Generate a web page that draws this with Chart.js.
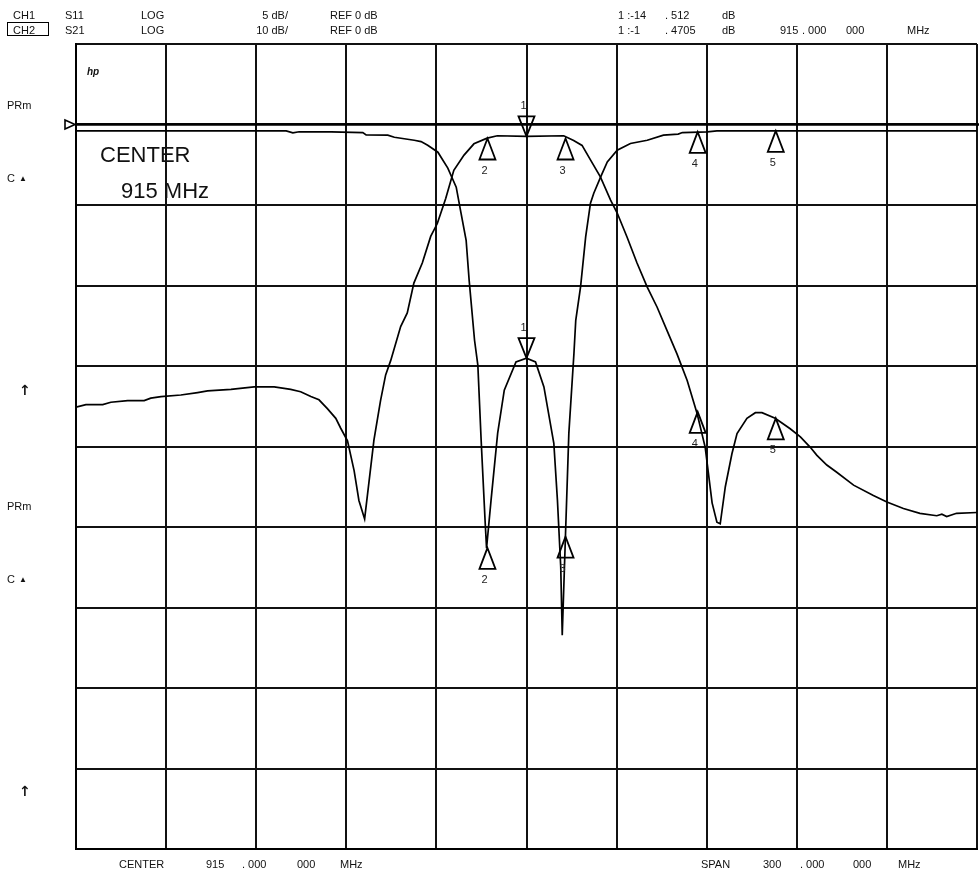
<!DOCTYPE html>
<html>
<head>
<meta charset="utf-8">
<script src="https://cdn.jsdelivr.net/npm/chart.js@4.4.0/dist/chart.umd.min.js"></script>
<style>
  html, body { margin: 0; padding: 0; background: #fff; }
  #wrap { position: relative; width: 979px; height: 877px; overflow: hidden;
          font-family: "Liberation Sans", Arial, sans-serif; color: #111; }
  #wrap canvas { position: absolute; left: 0; top: 0; }
  .t { position: absolute; font-size: 11px; line-height: 12px; white-space: pre; }
  .big { font-size: 22px; line-height: 24px; }
  .box { position: absolute; border: 1.5px solid #000; }
</style>
</head>
<body>
<div id="wrap"><canvas id="c" width="979" height="877"></canvas></div>
<script>
/* ---------- analyser settings ---------- */
const centerMHz = 915;
const spanMHz = 300;
const refDb = 0;
const s11PerDiv = 5;    // CH1
const s21PerDiv = 10;   // CH2

/* ---------- CH1 : S11 trace ---------- */
const s11Freq = [765, 835.0, 837.2, 839.3, 850.0, 860.5, 861.6, 868.8, 871.0, 877.6,
  879.9, 882.1, 885.5, 888.8, 891.6, 893.2, 894.9, 895.9, 897.7, 898.8,
  899.9, 901.2, 901.7, 903.2, 905.4, 907.6, 911.5, 915, 918.0, 920.8,
  924.1, 925.3, 926.4, 926.9, 928.0, 929.1, 930.8, 931.4, 933.0, 934.7,
  936.3, 937.4, 939.7, 941.9, 945.2, 949.6, 955.2, 960.6, 965.5, 966.9,
  975.2, 978.4, 1065];
const s11Db = [-0.40, -0.40, -0.52, -0.45, -0.46, -0.50, -0.65, -0.66, -0.79, -0.98,
  -1.06, -1.29, -1.72, -2.71, -3.89, -5.51, -7.19, -9.67, -13.40, -14.95,
  -19.61, -24.58, -26.32, -23.33, -19.17, -16.50, -14.75, -14.51, -14.75, -16.30,
  -19.80, -23.34, -27.48, -31.72, -25.39, -19.17, -14.21, -12.16, -10.09, -6.98,
  -4.89, -4.27, -3.25, -2.32, -1.60, -1.18, -0.98, -0.66, -0.60, -0.50,
  -0.46, -0.40, -0.40];

/* ---------- CH2 : S21 trace ---------- */
const s21Freq = [765, 768.3, 773.9, 776.6, 782.2, 787.7, 789.9, 793.3, 799.9, 805.5,
  808.8, 816.6, 824.3, 831.0, 836.5, 839.8, 843.2, 845.9, 848.7, 851.5,
  853.1, 855.4, 857.6, 859.2, 861.1, 864.2, 866.4, 868.1, 869.8, 873.1,
  875.3, 877.5, 880.3, 883.1, 885.3, 888.1, 890.8, 894.2, 897.5, 901.9,
  905.3, 915, 927.4, 930.7, 933.5, 936.3, 939.6, 943.0, 945.2, 948.5,
  951.8, 955.2, 958.5, 961.8, 965.1, 968.5, 971.8, 974.5, 976.8, 978.4,
  979.5, 981.2, 983.4, 985.1, 988.4, 991.2, 993.4, 997.8, 1002.8, 1006.2,
  1009.5, 1011.7, 1015.0, 1018.3, 1023.9, 1030.5, 1035.0, 1040.5, 1046.0, 1051.6,
  1053.3, 1054.9, 1058.2, 1065];
const s21Db = [-35.1, -34.8, -34.8, -34.5, -34.3, -34.3, -34.0, -33.8, -33.6, -33.3,
  -33.1, -32.9, -32.6, -32.6, -32.9, -33.2, -33.8, -34.2, -35.3, -36.5,
  -37.7, -39.3, -43.0, -46.7, -49.0, -39.2, -34.3, -31.1, -29.3, -25.1,
  -23.4, -19.7, -17.2, -13.9, -12.3, -9.2, -5.7, -3.8, -2.4, -1.7,
  -1.4, -1.47, -1.4, -2.0, -2.6, -4.4, -6.5, -9.4, -11.0, -14.0,
  -17.2, -20.2, -22.7, -25.6, -28.5, -31.8, -35.9, -40.1, -47.0, -49.4,
  -49.6, -45.0, -40.9, -38.4, -36.5, -35.8, -35.8, -36.5, -37.8, -38.8,
  -40.1, -41.1, -42.3, -43.2, -44.8, -46.1, -46.9, -47.7, -48.3, -48.6,
  -48.4, -48.7, -48.3, -48.2];

/* ---------- markers (1 is the active one) ---------- */
const markerFreq = [915, 902, 928, 972, 998];
const s11MarkerDb = [-14.512, -26.3, -25.6, -0.46, -0.40];
const s21MarkerDb = [-1.4705, -1.74, -1.74, -35.7, -36.5];

const xMin = centerMHz - spanMHz / 2;
const xMax = centerMHz + spanMHz / 2;

function pairs(fs, vs) {
  return fs.map((f, i) => ({ x: f, y: vs[i] }));
}

/* reference line, reference arrow and the marker triangles */
const analyserPlugin = {
  id: 'analyser',
  afterDatasetsDraw(chart) {
    const { ctx, chartArea, scales } = chart;
    const yRef = scales.y.getPixelForValue(refDb);

    ctx.save();
    ctx.strokeStyle = '#000';
    ctx.lineWidth = 2.6;
    ctx.beginPath();
    ctx.moveTo(chartArea.left, yRef);
    ctx.lineTo(chart.width, yRef);
    ctx.stroke();

    ctx.lineWidth = 1.6;
    ctx.beginPath();
    ctx.moveTo(chartArea.left - 11, yRef - 4.5);
    ctx.lineTo(chartArea.left - 1, yRef);
    ctx.lineTo(chartArea.left - 11, yRef + 4.5);
    ctx.closePath();
    ctx.stroke();

    const drawSet = (yScale, vals) => {
      vals.forEach((v, i) => {
        const px = scales.x.getPixelForValue(markerFreq[i]);
        const py = yScale.getPixelForValue(v);
        ctx.lineWidth = 1.8;
        ctx.beginPath();
        if (i === 0) {
          ctx.moveTo(px - 8, py - 20);
          ctx.lineTo(px + 8, py - 20);
          ctx.lineTo(px, py);
        } else {
          ctx.moveTo(px, py);
          ctx.lineTo(px - 8, py + 21);
          ctx.lineTo(px + 8, py + 21);
        }
        ctx.closePath();
        ctx.stroke();
        ctx.fillStyle = '#222';
        ctx.font = '11px "Liberation Sans", Arial, sans-serif';
        ctx.textAlign = 'center';
        ctx.textBaseline = 'middle';
        const ly = i === 0 ? py - 30 : py + 32;
        ctx.fillText(String(i + 1), px - 3, ly);
      });
    };
    drawSet(scales.y2, s11MarkerDb);
    drawSet(scales.y, s21MarkerDb);
    ctx.restore();
  }
};

new Chart(document.getElementById('c'), {
  type: 'line',
  data: {
    datasets: [
      {
        label: 'S11',
        data: pairs(s11Freq, s11Db),
        yAxisID: 'y2',
        borderColor: '#000',
        borderWidth: 1.7,
        pointRadius: 0,
        tension: 0,
        fill: false
      },
      {
        label: 'S21',
        data: pairs(s21Freq, s21Db),
        yAxisID: 'y',
        borderColor: '#000',
        borderWidth: 1.7,
        pointRadius: 0,
        tension: 0,
        fill: false
      }
    ]
  },
  options: {
    responsive: false,
    animation: false,
    devicePixelRatio: 1,
    layout: { padding: { left: 76, right: 2, top: 44, bottom: 28 } },
    plugins: {
      legend: { display: false },
      tooltip: { enabled: false }
    },
    scales: {
      x: {
        type: 'linear',
        min: xMin,
        max: xMax,
        ticks: { display: false, stepSize: spanMHz / 10 },
        grid: { color: '#111', lineWidth: 2, drawTicks: false },
        border: { display: true, color: '#000', width: 2 },
        afterFit: s => { s.height = 0; }
      },
      y: {
        type: 'linear',
        min: refDb - 9 * s21PerDiv,
        max: refDb + s21PerDiv,
        ticks: { display: false, stepSize: s21PerDiv },
        grid: { color: '#111', lineWidth: 2, drawTicks: false },
        border: { display: true, color: '#000', width: 2 },
        afterFit: s => { s.width = 0; }
      },
      y2: {
        type: 'linear',
        display: false,
        min: refDb - 9 * s11PerDiv,
        max: refDb + s11PerDiv
      }
    }
  },
  plugins: [analyserPlugin]
});

/* ---------- text around the graticule ---------- */
const wrap = document.getElementById('wrap');
function put(txt, x, yc, cls, right) {
  const s = document.createElement('span');
  s.className = 't' + (cls ? ' ' + cls : '');
  s.textContent = txt;
  const lh = cls && cls.includes('big') ? 24 : 12;
  s.style.left = x + 'px';
  s.style.top = (yc - lh / 2) + 'px';
  if (right) s.style.transform = 'translateX(-100%)';
  wrap.appendChild(s);
  return s;
}
function splitVal(v) {
  const [ip, fp] = String(v).split('.');
  return [ip, '. ' + fp];
}

// header
const r1 = 14.5, r2 = 29.5;
put('CH1', 13, r1);
put('S11', 65, r1);
put('LOG', 141, r1);
put(s11PerDiv + ' dB/', 288, r1, '', true);
put('REF ' + refDb + ' dB', 330, r1);
put('CH2', 13, r2);
const box = document.createElement('div');
box.className = 'box';
Object.assign(box.style, { left: '7px', top: '21.5px', width: '40px', height: '12px' });
wrap.appendChild(box);
put('S21', 65, r2);
put('LOG', 141, r2);
put(s21PerDiv + ' dB/', 288, r2, '', true);
put('REF ' + refDb + ' dB', 330, r2);

const m11 = splitVal(s11MarkerDb[0]);
const m21 = splitVal(s21MarkerDb[0]);
put('1 :' + m11[0], 618, r1);
put(m11[1], 665, r1);
put('dB', 722, r1);
put('1 :' + m21[0], 618, r2);
put(m21[1], 665, r2);
put('dB', 722, r2);
put(String(markerFreq[0]), 780, r2);
put('. 000', 802, r2);
put('000', 846, r2);
put('MHz', 907, r2);

// footer
put('CENTER', 119, 864);
put(String(centerMHz), 206, 864);
put('. 000', 242, 864);
put('000', 297, 864);
put('MHz', 340, 864);
put('SPAN', 701, 864);
put(String(spanMHz), 763, 864);
put('. 000', 800, 864);
put('000', 853, 864);
put('MHz', 898, 864);

// left annotations (two channel groups)
[0, 401].forEach(dy => {
  put('PRm', 7, 105 + dy);
  put('C', 7, 178 + dy);
  const tri = put('\u25B2', 19, 179 + dy);
  tri.style.fontSize = '8px';
  const ar = put('\u2191', 19, 390 + dy);
  ar.style.fontFamily = '"DejaVu Sans", sans-serif';
  ar.style.fontWeight = 'bold';
  ar.style.fontSize = '14px';
});

// logo and centre note
const hp = put('hp', 87, 72);
hp.style.fontWeight = 'bold';
hp.style.fontStyle = 'italic';
hp.style.fontSize = '10px';
put('CENTER', 100, 155, 'big');
put(centerMHz + ' MHz', 121, 190.7, 'big');
</script>
</body>
</html>
